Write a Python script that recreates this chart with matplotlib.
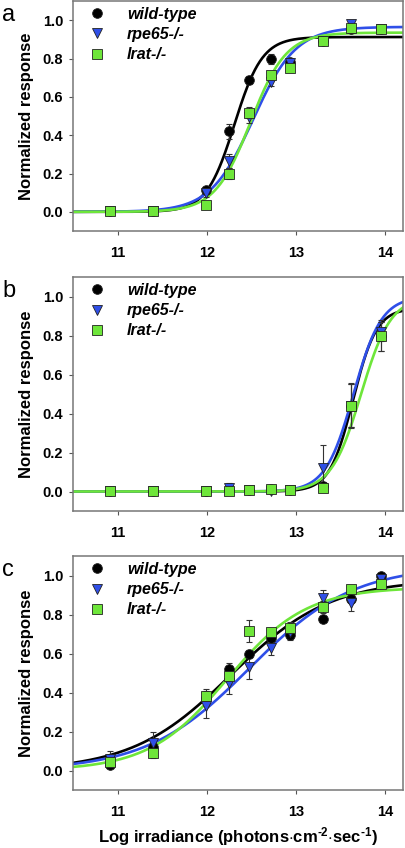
"""Normalized response vs log irradiance, three panels."""

import matplotlib

matplotlib.use("Agg")
import matplotlib.pyplot as plt
import numpy as np

plt.rcParams["font.family"] = ["Liberation Sans", "DejaVu Sans"]
plt.rcParams["mathtext.fontset"] = "custom"
plt.rcParams["mathtext.rm"] = "Liberation Sans:bold"
plt.rcParams["mathtext.bf"] = "Liberation Sans:bold"
plt.rcParams["mathtext.default"] = "bf"

# log irradiance of the stimuli (same for every panel)
log_irr = [10.91, 11.40, 11.99, 12.25, 12.47, 12.72, 12.93, 13.30, 13.62, 13.95]

series_names = ["wild-type", "rpe65-/-", "lrat-/-"]
series_colors = ["#000000", "#2f4fe8", "#6ee63a"]
series_markers = ["o", "v", "s"]

# panel a
a_wt = [0.005, 0.005, 0.112, 0.42, 0.688, 0.796, 0.78, 0.89, 0.953, 0.955]
a_wt_err = [0.005, 0.005, 0.02, 0.04, 0.02, 0.025, 0.02, 0.01, 0.015, 0.01]
a_rpe = [0.005, 0.005, 0.10, 0.265, 0.495, 0.675, 0.775, 0.89, 0.98, 0.955]
a_rpe_err = [0.005, 0.005, 0.02, 0.035, 0.03, 0.02, 0.02, 0.01, 0.02, 0.01]
a_lrat = [0.005, 0.003, 0.037, 0.20, 0.517, 0.712, 0.752, 0.893, 0.96, 0.955]
a_lrat_err = [0.005, 0.005, 0.015, 0.03, 0.03, 0.02, 0.02, 0.01, 0.02, 0.01]

# panel b
b_wt = [0.003, 0.003, 0.005, 0.01, 0.01, 0.012, 0.008, 0.03, 0.44, 0.80]
b_wt_err = [0.005, 0.005, 0.005, 0.01, 0.01, 0.01, 0.01, 0.02, 0.11, 0.08]
b_rpe = [0.003, 0.003, 0.003, 0.02, 0.01, 0.005, 0.008, 0.12, 0.44, 0.82]
b_rpe_err = [0.005, 0.005, 0.01, 0.025, 0.01, 0.01, 0.01, 0.12, 0.115, 0.05]
b_lrat = [0.003, 0.003, 0.005, 0.005, 0.01, 0.012, 0.01, 0.02, 0.44, 0.795]
b_lrat_err = [0.005, 0.005, 0.005, 0.01, 0.01, 0.01, 0.01, 0.01, 0.11, 0.075]

# panel c
c_wt = [0.03, 0.12, 0.37, 0.52, 0.596, 0.678, 0.695, 0.775, 0.88, 1.0]
c_wt_err = [0.01, 0.02, 0.04, 0.03, 0.02, 0.03, 0.02, 0.015, 0.02, 0.01]
c_rpe = [0.06, 0.14, 0.33, 0.45, 0.53, 0.63, 0.71, 0.885, 0.86, 0.98]
c_rpe_err = [0.04, 0.06, 0.06, 0.06, 0.06, 0.04, 0.04, 0.04, 0.04, 0.02]
c_lrat = [0.045, 0.09, 0.38, 0.485, 0.715, 0.71, 0.73, 0.84, 0.93, 0.955]
c_lrat_err = [0.02, 0.025, 0.04, 0.03, 0.055, 0.02, 0.03, 0.03, 0.015, 0.02]

# fitted sigmoid parameters (Rmax, log I50, slope) per series
a_fits = [(0.912, 12.31, 2.77), (0.965, 12.52, 1.81), (0.935, 12.49, 2.17)]
b_fits = [(0.94, 13.64, 3.3), (1.0, 13.645, 2.77), (1.0, 13.73, 2.6)]
c_fits = [(0.98, 12.27, 0.78), (1.05, 12.48, 0.75), (0.94, 12.23, 0.985)]

panels = [
    ("a", [a_wt, a_rpe, a_lrat], [a_wt_err, a_rpe_err, a_lrat_err], a_fits),
    ("b", [b_wt, b_rpe, b_lrat], [b_wt_err, b_rpe_err, b_lrat_err], b_fits),
    ("c", [c_wt, c_rpe, c_lrat], [c_wt_err, c_rpe_err, c_lrat_err], c_fits),
]

W, H = 405, 848
fig = plt.figure(figsize=(W / 100, H / 100), dpi=100)

# axes boxes in pixels: (left, top, right, bottom)
boxes = [(73, 1, 403, 231), (73, 277, 403, 511), (73, 556, 403, 790)]

xfit = np.linspace(10.5, 14.2, 400)

for (label, ys, errs, fits), (l, t, r, b) in zip(panels, boxes):
    ax = fig.add_axes([l / W, 1 - b / H, (r - l) / W, (b - t) / H])

    for (rmax, x50, k), col in zip(fits, series_colors):
        yfit = rmax / (1 + 10 ** (k * (x50 - xfit)))
        ax.plot(xfit, yfit, color=col, lw=1.9, zorder=2)

    for y, e, name, col, mk in zip(ys, errs, series_names, series_colors,
                                   series_markers):
        ax.errorbar(log_irr, y, yerr=e, fmt="none", ecolor="#333333",
                    elinewidth=0.8, capsize=2.5, capthick=0.8, zorder=3)
        ax.plot(log_irr, y, linestyle="none", marker=mk, color=col,
                markeredgecolor="#222222", markeredgewidth=0.6,
                markersize=7 if mk != "v" else 7.5, zorder=4, label=name)

    ax.set_xlim(10.5, 14.2)
    ax.set_ylim(-0.1, 1.1)
    ax.set_xticks([11, 12, 13, 14])
    ax.set_yticks([0.0, 0.2, 0.4, 0.6, 0.8, 1.0])
    ax.set_yticklabels(["0.0", "0.2", "0.4", "0.6", "0.8", "1.0"])
    for lab in ax.get_xticklabels() + ax.get_yticklabels():
        lab.set_fontweight("bold")
        lab.set_fontsize(10.5)
    ax.tick_params(direction="out", length=3, width=0.8, color="#555555")
    ax.tick_params(axis="x", pad=8)
    ax.tick_params(axis="y", pad=4)
    for sp in ax.spines.values():
        sp.set_color("#777777")
        sp.set_linewidth(1.1)

    ax.set_ylabel("Normalized response", fontsize=12, fontweight="bold",
                  labelpad=6)
    ax.legend(loc="upper left", bbox_to_anchor=(0.048, 0.975), frameon=False,
              borderpad=0, borderaxespad=0, handlelength=1.0,
              handletextpad=1.4, labelspacing=0.33,
              prop={"weight": "bold", "style": "italic", "size": 11.5})
    fig.text(2 / W, 1 - (t + 20) / H, label, fontsize=17, va="baseline",
             ha="left")

    if label == "c":
        ax.set_xlabel(r"Log irradiance (photons$\cdot$cm$^{\text{-2}}$"
                      r"$\cdot$sec$^{\text{-1}}$)",
                      fontsize=12, fontweight="bold", labelpad=4)

fig.savefig("out.png", dpi=100)
